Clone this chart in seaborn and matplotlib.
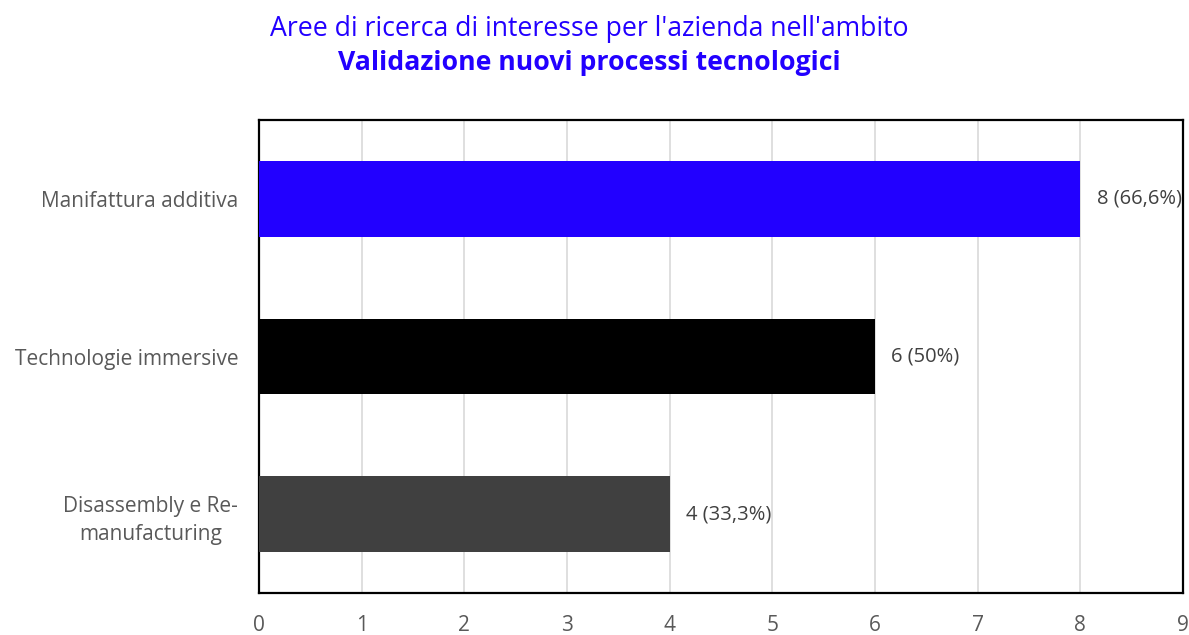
import matplotlib
matplotlib.use("Agg")
import matplotlib.pyplot as plt
import seaborn as sns
import pandas as pd

categories = ["Manifattura additiva", "Technologie immersive", "Disassembly e Re-\nmanufacturing"]
counts = [8, 6, 4]
percent_labels = ["66,6%", "50%", "33,3%"]
bar_colors = ["#2200FF", "#000000", "#404040"]
x_ticks = list(range(0, 10))

sns.set_theme(style="white")
plt.rcParams["font.family"] = ["Open Sans", "DejaVu Sans"]

df = pd.DataFrame({"area": categories, "count": counts})

fig = plt.figure(figsize=(11.89, 6.35), dpi=100)
ax = fig.add_axes([0.2178, 0.0661, 0.7772, 0.7449])

sns.barplot(data=df, y="area", x="count", hue="area", palette=bar_colors,
            saturation=1, legend=False, orient="h", width=0.48, ax=ax,
            linewidth=0, edgecolor="none", zorder=3)

ax.set_xlim(0, 9)
ax.set_ylim(2.5, -0.5)
ax.set_xticks(x_ticks)
ax.set_xlabel("")
ax.set_ylabel("")
ax.xaxis.grid(True, color="#d9d9d9", linewidth=1.2, zorder=0)
ax.yaxis.grid(False)
ax.set_axisbelow(True)
for s in ax.spines.values():
    s.set_visible(True)
    s.set_color("black")
    s.set_linewidth(1.6)

ax.tick_params(axis="x", labelsize=15, labelcolor="#595959", pad=16, length=0)
ax.tick_params(axis="y", labelsize=15, labelcolor="#595959", pad=15, length=0)
for lbl in ax.get_yticklabels():
    lbl.set_horizontalalignment("right")
    lbl.set_multialignment("center")
    lbl.set_linespacing(1.45)

for i, (v, p) in enumerate(zip(counts, percent_labels)):
    ax.text(v + 0.16, i, f"{v} ({p})", va="center", ha="left",
            fontsize=14.5, color="#404040", zorder=5, clip_on=False)

fig.text(0.496, 0.955, "Aree di ricerca di interesse per l'azienda nell'ambito",
         ha="center", va="center", fontsize=19.2, color="#2200FF")
fig.text(0.496, 0.901, "Validazione nuovi processi tecnologici",
         ha="center", va="center", fontsize=19.2, fontweight="bold", color="#2200FF")

fig.savefig("out.png", dpi=100)
